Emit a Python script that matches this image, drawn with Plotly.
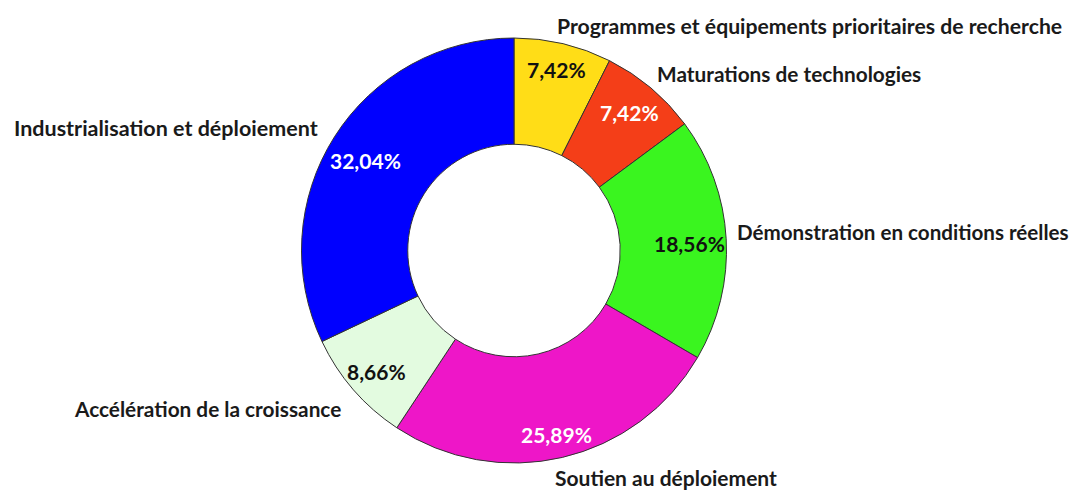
import plotly.graph_objects as go

# ---- data ----
categories = [
    "Programmes et équipements prioritaires de recherche",
    "Maturations de technologies",
    "Démonstration en conditions réelles",
    "Soutien au déploiement",
    "Accélération de la croissance",
    "Industrialisation et déploiement",
]
values = [7.42, 7.42, 18.56, 25.89, 8.66, 32.04]

# ---- styles ----
colors = ["#FFDD17", "#F43E18", "#3AF51F", "#EE16C8", "#E3FBE0", "#0000FF"]
pct_colors = ["#111111", "#FFFFFF", "#111111", "#FFFFFF", "#111111", "#FFFFFF"]
# label anchor positions in page pixels (left x, center y)
label_pos = [(555, 26), (655, 73), (735, 232), (553, 477), (72, 408), (12, 128)]
label_sizes = [21.2, 20.8, 20.6, 21.0, 20.8, 21.5]
pct_pos = [(556, 70), (629, 113), (689, 243), (556, 434), (376, 371), (365, 160)]

OFF = 8  # page body margin
W, H = 1083 - OFF, 491 - OFF
FONT = "Lato"


def px(x, y):
    return (x - OFF) / W, 1 - (y - OFF) / H


cx, cy, r = 514, 250.5, 212.5
x0, y1 = px(cx - r, cy - r)
x1, y0 = px(cx + r, cy + r)

fig = go.Figure(
    go.Pie(
        labels=categories,
        values=values,
        sort=False,
        direction="clockwise",
        rotation=0,
        hole=0.5,
        marker=dict(colors=colors, line=dict(color="#333333", width=1)),
        textinfo="none",
        hoverinfo="label+percent",
        showlegend=False,
        domain=dict(x=[x0, x1], y=[y0, y1]),
    )
)

annotations = []
for cat, (x, y), s in zip(categories, label_pos, label_sizes):
    ax, ay = px(x, y)
    annotations.append(
        dict(x=ax, y=ay, xref="paper", yref="paper", text=f"<b>{cat}</b>", showarrow=False,
             xanchor="left", yanchor="middle",
             font=dict(family=FONT, size=s, color="#1a1a1a"))
    )
for v, c, (x, y) in zip(values, pct_colors, pct_pos):
    ax, ay = px(x, y)
    txt = f"{v:.2f}".replace(".", ",") + "%"
    annotations.append(
        dict(x=ax, y=ay, xref="paper", yref="paper", text=f"<b>{txt}</b>", showarrow=False,
             xanchor="center", yanchor="middle",
             font=dict(family=FONT, size=21, color=c))
    )

fig.update_layout(
    width=W,
    height=H,
    margin=dict(l=0, r=0, t=0, b=0),
    paper_bgcolor="white",
    plot_bgcolor="white",
    annotations=annotations,
)

fig.write_html("out.html")
